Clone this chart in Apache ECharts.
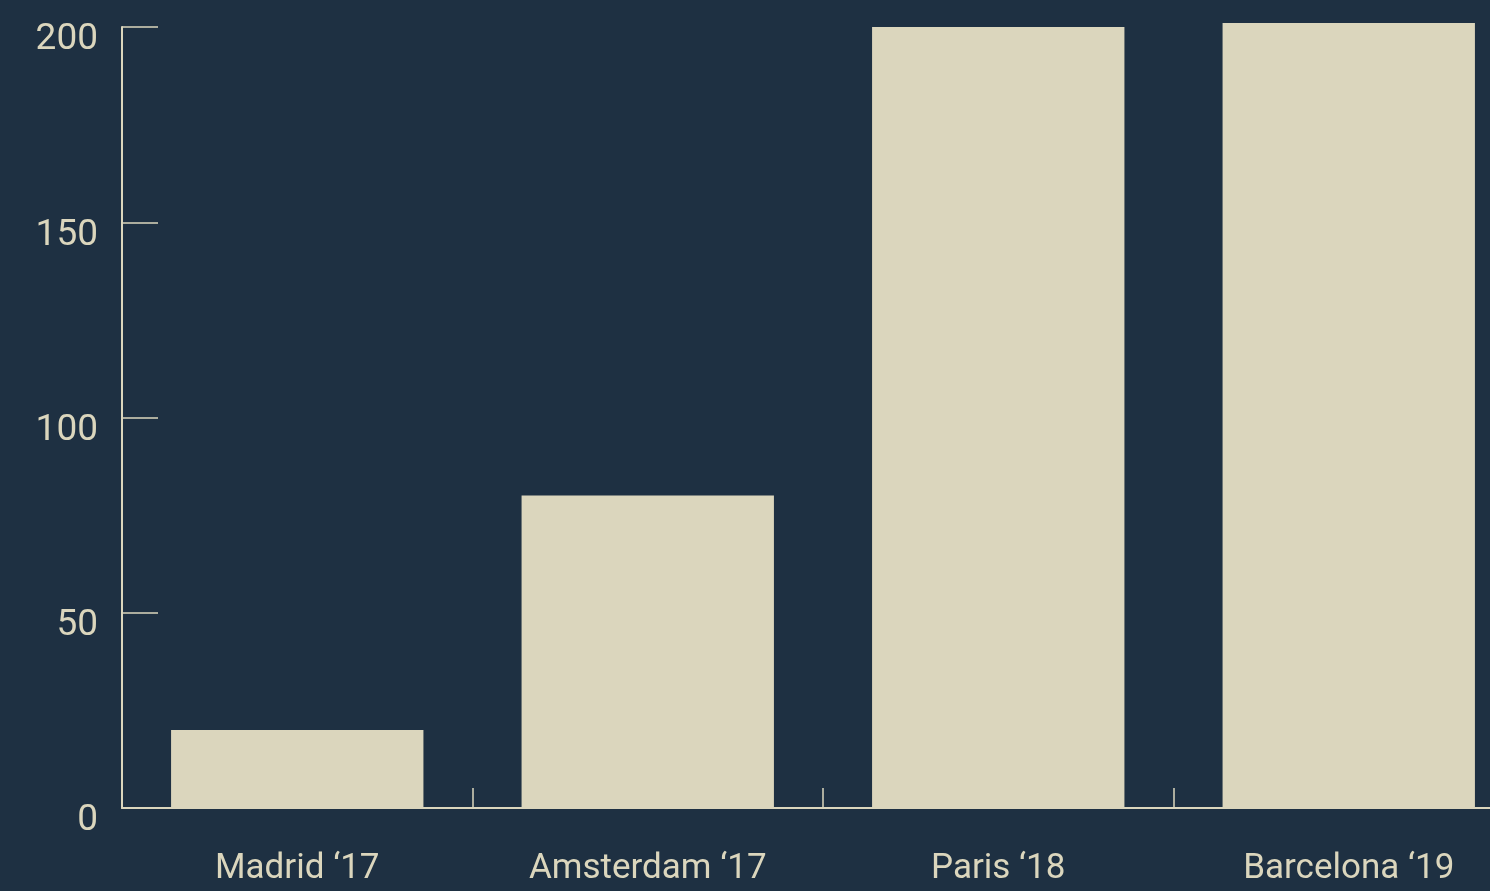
<!DOCTYPE html>
<html>
<head>
<meta charset="utf-8">
<script src="https://cdn.jsdelivr.net/npm/echarts@6/dist/echarts.min.js"></script>
<style>
html,body{margin:0;padding:0;background:#1e3042;overflow:hidden;width:1490px;height:891px;}
#c{width:1524px;height:891px;}
</style>
</head>
<body>
<div id="c"></div>
<script>
const categories = ["Madrid \u201817", "Amsterdam \u201817", "Paris \u201818", "Barcelona \u201819"];
const values = [20, 80, 200, 201];
const yTicks = [0, 50, 100, 150, 200];

const fg = '#dbd6bd';
const chart = echarts.init(document.getElementById('c'));
chart.setOption({
  backgroundColor: '#1e3042',
  animation: false,
  grid: {left: 122, right: 0, top: 27, bottom: 83, containLabel: false},
  xAxis: {
    type: 'category',
    data: categories,
    axisLine: {lineStyle: {color: fg, width: 2}},
    axisTick: {show: true, inside: true, length: 20, alignWithLabel: false, lineStyle: {color: fg, width: 1.5}},
    axisLabel: {color: fg, fontFamily: 'Roboto', fontSize: 35, margin: 44}
  },
  yAxis: {
    type: 'value',
    min: yTicks[0], max: yTicks[yTicks.length - 1], interval: 50,
    splitLine: {show: false},
    axisLine: {show: true, lineStyle: {color: fg, width: 2}},
    axisTick: {show: true, inside: true, length: 36, lineStyle: {color: fg, width: 1.5}},
    axisLabel: {color: fg, fontFamily: 'Roboto', fontSize: 37, margin: 24, verticalAlign: 'top', lineHeight: 26}
  },
  series: [{
    type: 'bar',
    data: values,
    clip: false,
    barCategoryGap: '28%',
    itemStyle: {color: fg}
  }]
});
</script>
</body>
</html>
